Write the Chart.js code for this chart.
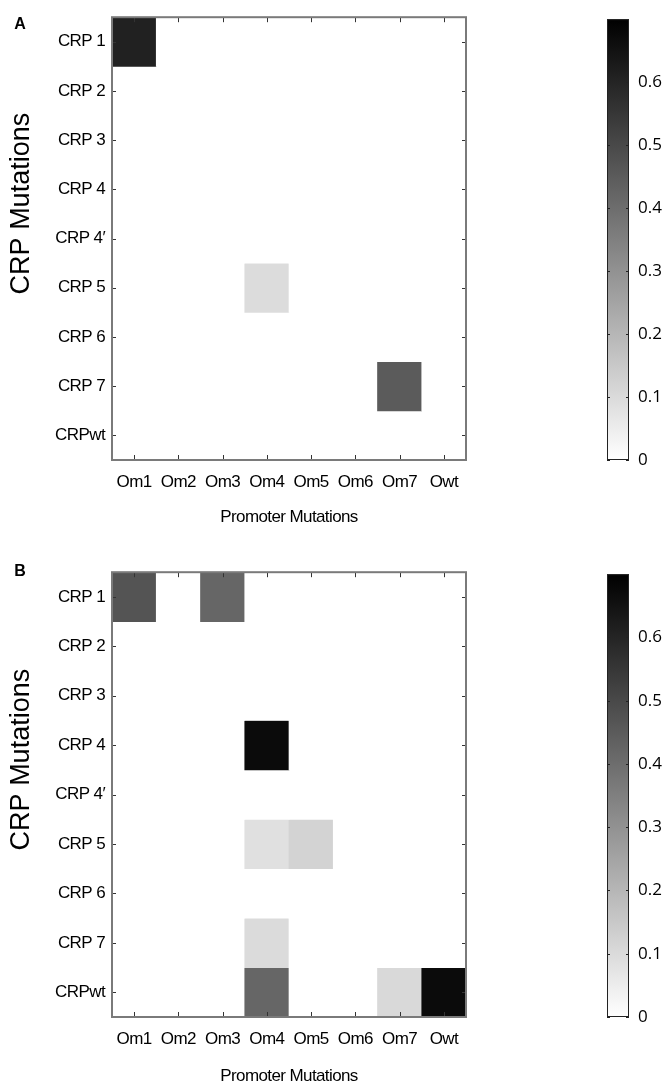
<!DOCTYPE html>
<html>
<head>
<meta charset="utf-8">
<script src="https://cdn.jsdelivr.net/npm/chart.js@4.4.0/dist/chart.umd.min.js"></script>
<style>
  html, body { margin: 0; padding: 0; background: #fff; }
  #page { position: relative; width: 664px; height: 1088px; overflow: hidden; }
  canvas { position: absolute; }
</style>
</head>
<body>
<div id="page">
  <canvas id="heatA" width="520" height="540" style="left:0;top:0"></canvas>
  <canvas id="barA" width="68" height="540" style="left:596px;top:0"></canvas>
  <canvas id="heatB" width="520" height="533" style="left:0;top:555px"></canvas>
  <canvas id="barB" width="68" height="533" style="left:596px;top:555px"></canvas>
</div>
<script>
// categories
const promoters = ['Om1', 'Om2', 'Om3', 'Om4', 'Om5', 'Om6', 'Om7', 'Owt'];
const crpRows = ['CRP 1', 'CRP 2', 'CRP 3', 'CRP 4', 'CRP 4\u2032', 'CRP 5', 'CRP 6', 'CRP 7', 'CRPwt'];

// cell values, one row per CRP mutation, columns follow promoters
const valuesA = [
  [0.61, 0, 0, 0, 0, 0, 0, 0],
  [0, 0, 0, 0, 0, 0, 0, 0],
  [0, 0, 0, 0, 0, 0, 0, 0],
  [0, 0, 0, 0, 0, 0, 0, 0],
  [0, 0, 0, 0, 0, 0, 0, 0],
  [0, 0, 0, 0.095, 0, 0, 0, 0],
  [0, 0, 0, 0, 0, 0, 0, 0],
  [0, 0, 0, 0, 0, 0, 0.45, 0],
  [0, 0, 0, 0, 0, 0, 0, 0]
];
const valuesB = [
  [0.47, 0, 0.42, 0, 0, 0, 0, 0],
  [0, 0, 0, 0, 0, 0, 0, 0],
  [0, 0, 0, 0, 0, 0, 0, 0],
  [0, 0, 0, 0.67, 0, 0, 0, 0],
  [0, 0, 0, 0, 0, 0, 0, 0],
  [0, 0, 0, 0.085, 0.12, 0, 0, 0],
  [0, 0, 0, 0, 0, 0, 0, 0],
  [0, 0, 0, 0.1, 0, 0, 0, 0],
  [0, 0, 0, 0.42, 0, 0, 0.105, 0.67]
];

// colour scale
const colorMax = 0.7;
const colorbarTicks = [0, 0.1, 0.2, 0.3, 0.4, 0.5, 0.6];

const sans = "'Liberation Sans', Arial, sans-serif";

function gray(v) {
  const g = Math.round(255 * (1 - Math.min(v, colorMax) / colorMax));
  return `rgb(${g},${g},${g})`;
}

// a bit tighter letters, the figure uses a narrow font
const tightText = {
  id: 'tightText',
  beforeUpdate(chart) { chart.ctx.letterSpacing = '-0.6px'; },
  beforeDraw(chart) { chart.ctx.letterSpacing = '-0.6px'; }
};

// frame, inward ticks, y title and panel letter (matlab look)
const heatFrame = {
  id: 'heatFrame',
  afterDraw(chart, args, opts) {
    const { ctx, chartArea: a, scales } = chart;
    ctx.save();
    ctx.letterSpacing = '0px';
    ctx.strokeStyle = '#333';
    ctx.lineWidth = 1;
    ctx.beginPath();
    scales.x.ticks.forEach((t, i) => {
      const x = Math.round(scales.x.getPixelForTick(i)) + 0.5;
      ctx.moveTo(x, a.top); ctx.lineTo(x, a.top + 5);
      ctx.moveTo(x, a.bottom); ctx.lineTo(x, a.bottom - 5);
    });
    scales.y.ticks.forEach((t, i) => {
      const y = Math.round(scales.y.getPixelForTick(i)) + 0.5;
      ctx.moveTo(a.left, y); ctx.lineTo(a.left + 4, y);
      ctx.moveTo(a.right, y); ctx.lineTo(a.right - 4, y);
    });
    ctx.stroke();
    ctx.strokeStyle = '#7a7a7a';
    ctx.lineWidth = 2;
    ctx.strokeRect(a.left, a.top, a.right - a.left, a.bottom - a.top);

    ctx.fillStyle = '#000';
    ctx.font = '27px ' + sans;
    ctx.textAlign = 'center';
    ctx.textBaseline = 'middle';
    ctx.translate(22, (a.top + a.bottom) / 2 - 35);
    ctx.rotate(-Math.PI / 2);
    ctx.fillText('CRP Mutations', 0, 0);
    ctx.restore();

    ctx.save();
    ctx.letterSpacing = '0px';
    ctx.fillStyle = '#000';
    ctx.font = 'bold 16px ' + sans;
    ctx.textAlign = 'center';
    ctx.textBaseline = 'middle';
    ctx.fillText(opts.letter, 20, opts.letterY);
    ctx.restore();
  }
};

const barFrame = {
  id: 'barFrame',
  afterDraw(chart) {
    const { ctx, chartArea: a, scales } = chart;
    ctx.save();
    ctx.strokeStyle = '#222';
    ctx.lineWidth = 1;
    ctx.beginPath();
    scales.y.ticks.forEach((t, i) => {
      const y = Math.round(scales.y.getPixelForTick(i)) + 0.5;
      ctx.moveTo(a.left, y); ctx.lineTo(a.left + 3, y);
      ctx.moveTo(a.right, y); ctx.lineTo(a.right - 3, y);
    });
    ctx.stroke();
    ctx.strokeRect(a.left + 0.5, a.top + 0.5, a.right - a.left - 1, a.bottom - a.top - 1);
    ctx.restore();
  }
};

function heatmap(id, values, p) {
  return new Chart(document.getElementById(id), {
    type: 'bar',
    data: {
      labels: promoters,
      datasets: crpRows.map((row, r) => ({
        label: row,
        data: promoters.map(() => [r, r + 1]),
        backgroundColor: c => gray(values[r][c.dataIndex]),
        borderWidth: 0,
        grouped: false,
        barPercentage: 1,
        categoryPercentage: 1
      }))
    },
    options: {
      responsive: false,
      animation: false,
      layout: { padding: { top: p.top, right: 54, left: 0, bottom: 0 } },
      scales: {
        x: {
          grid: { display: false, drawTicks: false },
          border: { display: false },
          ticks: {
            color: '#000',
            padding: 12,
            maxRotation: 0,
            minRotation: 0,
            autoSkip: false,
            font: { family: sans, size: 17 }
          },
          title: {
            display: true,
            text: 'Promoter Mutations',
            color: '#000',
            font: { family: sans, size: 17 },
            padding: { top: 0, bottom: p.titlePad }
          },
          afterFit: s => { s.height = p.axisH; }
        },
        y: {
          type: 'linear',
          min: 0,
          max: crpRows.length,
          reverse: true,
          grid: { display: false, drawTicks: false },
          border: { display: false },
          afterBuildTicks: s => { s.ticks = crpRows.map((_, i) => ({ value: i + 0.5 })); },
          ticks: {
            color: '#000',
            padding: 7,
            font: { family: sans, size: 17 },
            callback: (v, i) => crpRows[i]
          },
          afterFit: s => { s.width = 112; }
        }
      },
      plugins: {
        legend: { display: false },
        tooltip: { enabled: false },
        heatFrame: { letter: p.letter, letterY: p.letterY }
      }
    },
    plugins: [tightText, heatFrame]
  });
}

function colorbar(id, p) {
  return new Chart(document.getElementById(id), {
    type: 'bar',
    data: {
      labels: [''],
      datasets: [{
        data: [[0, colorMax]],
        backgroundColor: c => {
          const a = c.chart.chartArea;
          if (!a) return '#888';
          const g = c.chart.ctx.createLinearGradient(0, a.bottom, 0, a.top);
          g.addColorStop(0, '#ffffff');
          g.addColorStop(1, '#000000');
          return g;
        },
        borderWidth: 0,
        barPercentage: 1,
        categoryPercentage: 1
      }]
    },
    options: {
      responsive: false,
      animation: false,
      layout: { padding: { top: p.top, bottom: p.bottom, left: 11, right: 0 } },
      scales: {
        x: { display: false },
        y: {
          position: 'right',
          min: 0,
          max: colorMax,
          grid: { display: false, drawTicks: false },
          border: { display: false },
          afterBuildTicks: s => { s.ticks = colorbarTicks.map(v => ({ value: v })); },
          ticks: {
            color: '#000',
            padding: 9,
            font: { family: "'Open Sans', sans-serif", size: 17 },
            callback: v => (v === 0 ? '0' : v.toFixed(1))
          },
          afterFit: s => { s.width = 35; }
        }
      },
      plugins: { legend: { display: false }, tooltip: { enabled: false } }
    },
    plugins: [barFrame]
  });
}

heatmap('heatA', valuesA, { top: 11, axisH: 80, titlePad: 12, letter: 'A', letterY: 25 });
colorbar('barA', { top: 10, bottom: 80 });
heatmap('heatB', valuesB, { top: 14, axisH: 71, titlePad: 1, letter: 'B', letterY: 17 });
colorbar('barB', { top: 13, bottom: 71 });
</script>
</body>
</html>
